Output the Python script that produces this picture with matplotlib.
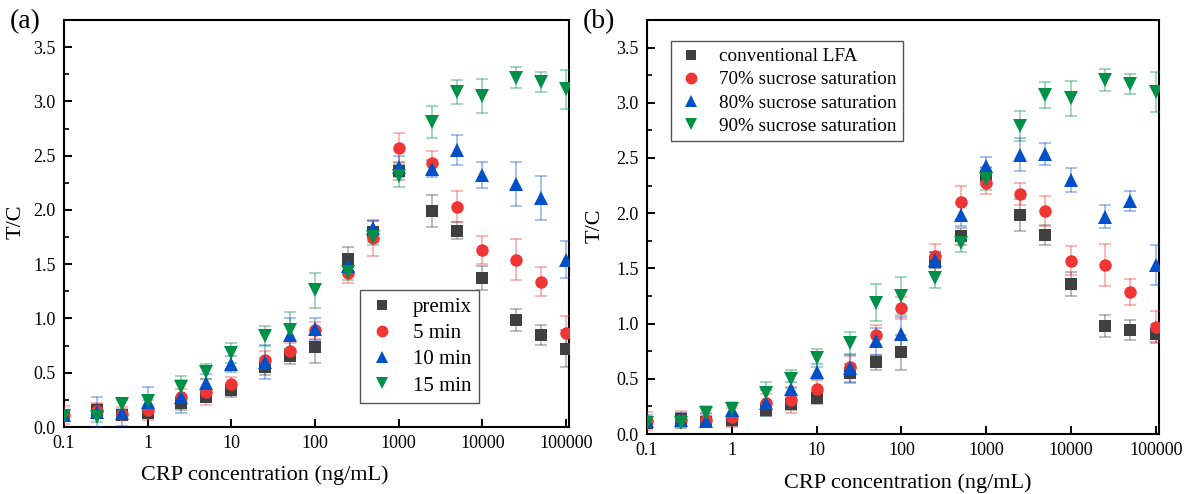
import matplotlib
matplotlib.use("Agg")
import matplotlib.pyplot as plt
from matplotlib.lines import Line2D
import numpy as np

plt.rcParams['font.family'] = ['Liberation Serif', 'DejaVu Serif']
plt.rcParams['mathtext.fontset'] = 'stix'

# ---------------- data ----------------
conc = [0.1, 0.25, 0.5, 1, 2.5, 5, 10, 25, 50, 100, 250, 500, 1000,
        2500, 5000, 10000, 25000, 50000, 100000]

# panel (a)
a_labels = ["premix", "5 min", "10 min", "15 min"]
a_premix = [0.10, 0.155, 0.11, 0.13, 0.22, 0.28, 0.34, 0.555, 0.65, 0.74, 1.55, 1.80, 2.36,
            1.99, 1.81, 1.37, 0.985, 0.85, 0.72]
a_premix_err = [0.04, 0.06, 0.05, 0.05, 0.06, 0.05, 0.06, 0.08, 0.07, 0.15, 0.11, 0.10, 0.08,
                0.15, 0.08, 0.11, 0.10, 0.09, 0.17]
a_5min = [0.11, 0.15, 0.12, 0.155, 0.28, 0.32, 0.40, 0.62, 0.70, 0.89, 1.415, 1.74, 2.57,
          2.43, 2.03, 1.63, 1.54, 1.34, 0.87]
a_5min_err = [0.08, 0.07, 0.06, 0.09, 0.07, 0.12, 0.06, 0.08, 0.07, 0.08, 0.09, 0.16, 0.14,
              0.11, 0.14, 0.13, 0.19, 0.13, 0.15]
a_10min = [0.11, 0.14, 0.13, 0.23, 0.28, 0.41, 0.58, 0.60, 0.85, 0.90, 1.48, 1.83, 2.40,
           2.38, 2.55, 2.32, 2.24, 2.11, 1.54]
a_10min_err = [0.05, 0.14, 0.12, 0.14, 0.15, 0.08, 0.07, 0.16, 0.15, 0.10, 0.08, 0.08, 0.10,
               0.08, 0.14, 0.12, 0.20, 0.20, 0.17]
a_15min = [0.10, 0.095, 0.215, 0.24, 0.37, 0.51, 0.68, 0.84, 0.89, 1.26, 1.43, 1.75, 2.31,
           2.81, 3.09, 3.05, 3.22, 3.18, 3.11]
a_15min_err = [0.04, 0.05, 0.05, 0.05, 0.10, 0.07, 0.09, 0.09, 0.17, 0.16, 0.08, 0.07, 0.10,
               0.15, 0.11, 0.16, 0.10, 0.09, 0.18]

# panel (b)
b_labels = ["conventional LFA", "70% sucrose saturation",
            "80% sucrose saturation", "90% sucrose saturation"]
b_conv = [0.10, 0.14, 0.11, 0.125, 0.22, 0.27, 0.33, 0.55, 0.65, 0.74, 1.56, 1.79, 2.34,
          1.985, 1.80, 1.36, 0.98, 0.94, 0.91]
b_conv_err = [0.04, 0.05, 0.05, 0.05, 0.06, 0.05, 0.06, 0.08, 0.07, 0.16, 0.09, 0.08, 0.08,
              0.145, 0.09, 0.11, 0.10, 0.09, 0.09]
b_70 = [0.12, 0.13, 0.13, 0.15, 0.28, 0.31, 0.405, 0.61, 0.90, 1.145, 1.61, 2.10, 2.27,
        2.17, 2.02, 1.57, 1.53, 1.285, 0.97]
b_70_err = [0.08, 0.08, 0.06, 0.09, 0.08, 0.12, 0.08, 0.10, 0.09, 0.10, 0.11, 0.15, 0.10,
            0.10, 0.14, 0.13, 0.19, 0.12, 0.14]
b_80 = [0.12, 0.13, 0.12, 0.22, 0.28, 0.405, 0.565, 0.595, 0.84, 0.91, 1.58, 1.98, 2.43,
        2.53, 2.54, 2.30, 1.97, 2.11, 1.53]
b_80_err = [0.05, 0.06, 0.06, 0.06, 0.12, 0.07, 0.07, 0.13, 0.12, 0.15, 0.07, 0.10, 0.08,
            0.15, 0.10, 0.11, 0.10, 0.09, 0.18]
b_90 = [0.10, 0.10, 0.19, 0.23, 0.37, 0.50, 0.69, 0.82, 1.19, 1.25, 1.41, 1.73, 2.31,
        2.79, 3.07, 3.04, 3.21, 3.17, 3.10]
b_90_err = [0.04, 0.05, 0.06, 0.06, 0.10, 0.08, 0.08, 0.10, 0.17, 0.17, 0.09, 0.08, 0.10,
            0.14, 0.12, 0.16, 0.10, 0.09, 0.18]

colors = ["#404040", "#F03535", "#0050C8", "#009048"]
markers = ["s", "o", "^", "v"]
msizes = [8, 9, 9.5, 9.5]

fig = plt.figure(figsize=(11.84, 4.94), dpi=100)
W, H = 1184, 494
axA = fig.add_axes([64 / W, 1 - 427 / H, (569 - 64) / W, (427 - 20) / H])
axB = fig.add_axes([647 / W, 1 - 434 / H, (1159 - 647) / W, (434 - 20) / H])


def draw(ax, series, errs):
    for i, (vals, e) in enumerate(zip(series, errs)):
        ax.errorbar(conc, vals, yerr=e, fmt='none', ecolor=colors[i], alpha=0.45,
                    elinewidth=1.1, capsize=4, capthick=1.1, zorder=2 + i)
        ax.plot(conc, vals, linestyle='none', marker=markers[i], ms=msizes[i],
                color=colors[i], markeredgewidth=0, zorder=10 + i)
    ax.set_xscale('log')
    ax.set_xlim(0.1, 1.09e5)
    ax.set_ylim(0, 3.75)
    ax.set_xticks([0.1, 1, 10, 100, 1000, 10000, 100000])
    ax.set_xticklabels(["0.1", "1", "10", "100", "1000", "10000", "100000"])
    ax.xaxis.set_minor_locator(matplotlib.ticker.NullLocator())
    ax.set_yticks([0, 0.5, 1.0, 1.5, 2.0, 2.5, 3.0, 3.5])
    ax.set_yticklabels(["0.0", "0.5", "1.0", "1.5", "2.0", "2.5", "3.0", "3.5"])
    ax.yaxis.set_minor_locator(matplotlib.ticker.MultipleLocator(0.25))
    ax.tick_params(which='major', direction='in', length=6, width=1.4,
                   labelsize=13, pad=6, top=False, right=False)
    ax.tick_params(which='minor', direction='in', length=3.5, width=1.2,
                   top=False, right=False)
    for s in ax.spines.values():
        s.set_linewidth(1.5)
    ax.set_xlabel("CRP concentration (ng/mL)", fontsize=16)
    ax.set_ylabel("T/C", fontsize=16)


draw(axA, [a_premix, a_5min, a_10min, a_15min],
     [a_premix_err, a_5min_err, a_10min_err, a_15min_err])
draw(axB, [b_conv, b_70, b_80, b_90],
     [b_conv_err, b_70_err, b_80_err, b_90_err])

axA.xaxis.set_label_coords(0.398, -0.093)
axB.xaxis.set_label_coords(0.51, -0.094)
axA.yaxis.set_label_coords(-0.077, 0.504)
axB.yaxis.set_label_coords(-0.082, 0.502)


def handles(labels):
    return [Line2D([], [], linestyle='none', marker=markers[i], ms=msizes[i] - 0.5,
                   color=colors[i], markeredgewidth=0, label=labels[i])
            for i in range(4)]


legA = axA.legend(handles=handles(a_labels), loc='lower left',
                  bbox_to_anchor=(0.586, 0.059), fontsize=15, frameon=True,
                  fancybox=False, edgecolor='#555555', framealpha=1,
                  handlelength=1.4, handletextpad=0.8, labelspacing=0.32,
                  borderpad=0.35, borderaxespad=0)
legA.get_frame().set_linewidth(1.0)
legB = axB.legend(handles=handles(b_labels), loc='upper left',
                  bbox_to_anchor=(0.047, 0.949), fontsize=13.8, frameon=True,
                  fancybox=False, edgecolor='#555555', framealpha=1,
                  handlelength=1.4, handletextpad=0.75, labelspacing=0.3,
                  borderpad=0.35, borderaxespad=0)
legB.get_frame().set_linewidth(1.0)

fig.text(10 / W, 1 - 9 / H, "(a)", fontsize=20, va='top', ha='left')
fig.text(583 / W, 1 - 9 / H, "(b)", fontsize=20, va='top', ha='left')

fig.savefig("out.png", dpi=100)
